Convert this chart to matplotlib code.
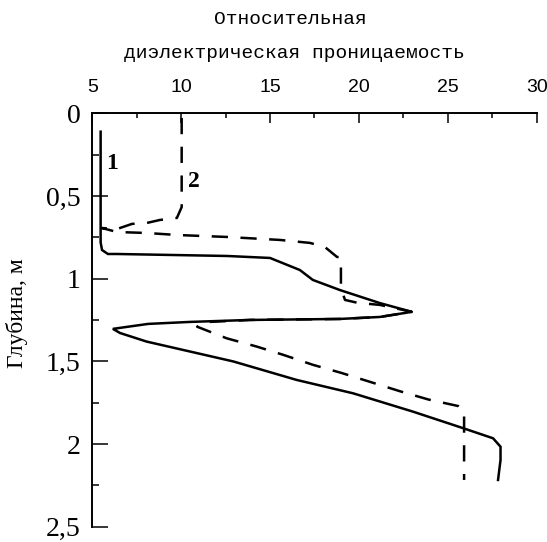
import matplotlib
matplotlib.use("Agg")
import matplotlib.pyplot as plt
from matplotlib.ticker import MultipleLocator

# ===== data =====
# curve 1 (solid)
solid_eps = [5.47, 5.47, 5.55, 5.88, 6.39, 12.58, 15.0, 16.68, 17.41, 18.93,
             21.18, 22.98, 21.18, 18.93, 13.87, 10.49, 8.14, 6.16, 6.56, 8.06,
             12.93, 16.5, 19.68, 23.05, 25.87, 27.55, 27.97, 27.97, 27.83]
solid_depth = [0.11, 0.78, 0.826, 0.85, 0.85, 0.862, 0.874, 0.947, 1.007, 1.068,
               1.147, 1.20, 1.231, 1.243, 1.249, 1.261, 1.273, 1.303, 1.328, 1.38,
               1.50, 1.612, 1.693, 1.804, 1.904, 1.965, 2.016, 2.096, 2.217]

# curve 2 (dashed)
dashed_eps = [10.03, 10.03, 9.76, 8.81, 8.08, 7.23, 6.39, 5.55, 6.39, 8.08,
              9.76, 12.58, 15.56, 17.25, 18.09, 18.77, 18.99, 18.99, 19.22, 19.95,
              21.18, 22.98, 21.18, 18.93, 13.87, 11.4, 10.9, 12.56, 14.25, 15.74,
              17.4, 19.03, 20.52, 22.3, 23.9, 25.59, 25.92, 25.92]
dashed_depth = [0.027, 0.566, 0.632, 0.644, 0.662, 0.668, 0.699, 0.693, 0.717, 0.723,
                0.735, 0.747, 0.765, 0.783, 0.808, 0.868, 0.87, 1.056, 1.128, 1.146,
                1.158, 1.20, 1.231, 1.243, 1.249, 1.262, 1.29, 1.36, 1.41, 1.46,
                1.52, 1.57, 1.62, 1.68, 1.73, 1.77, 1.80, 2.217]

x_ticks = [5, 10, 15, 20, 25, 30]
y_ticks = [0, 0.5, 1, 1.5, 2, 2.5]
y_ticklabels = ["0", "0,5", "1", "1,5", "2", "2,5"]

# ===== figure =====
fig = plt.figure(figsize=(5.47, 5.42), dpi=100)
ax = fig.add_axes([0.1687, 0.0282, 0.8123, 0.7624])

ax.plot(solid_eps, solid_depth, color="black", linewidth=1.8, solid_joinstyle="miter")
ax.plot(dashed_eps, dashed_depth, color="black", linewidth=1.8,
        linestyle=(0, (6.5, 5)), dash_capstyle="butt")

ax.text(6.14, 0.30, "1", fontsize=17, fontweight="bold", family="Liberation Serif",
        ha="center", va="center")
ax.text(10.72, 0.41, "2", fontsize=17, fontweight="bold", family="Liberation Serif",
        ha="center", va="center")

ax.set_xlim(5, 30)
ax.set_ylim(2.5, 0)

# ===== axes look =====
for side in ["right", "bottom"]:
    ax.spines[side].set_visible(False)
for side in ["left", "top"]:
    ax.spines[side].set_linewidth(1.4)

ax.xaxis.tick_top()
ax.set_xticks(x_ticks)
ax.xaxis.set_minor_locator(MultipleLocator(2.5))
ax.set_yticks(y_ticks)
ax.set_yticklabels(y_ticklabels)
ax.yaxis.set_minor_locator(MultipleLocator(0.25))

ax.tick_params(axis="x", which="major", direction="in", length=7.2, width=1.1, pad=12.5,
               labelsize=14)
ax.tick_params(axis="x", which="minor", direction="in", length=3.6, width=1.1)
ax.tick_params(axis="y", which="major", direction="in", length=11.5, width=1.1, pad=8.5,
               labelsize=20)
ax.tick_params(axis="y", which="minor", direction="in", length=5, width=1.1)

for lab in ax.get_xticklabels():
    lab.set_family("Liberation Sans")
for lab in ax.get_yticklabels():
    lab.set_family("Liberation Serif")

# ===== labels =====
fig.text(290 / 547, 1 - 19 / 542, "Относительная", family="Liberation Mono",
         fontsize=14, ha="center", va="center")
fig.text(294 / 547, 1 - 53 / 542, "диэлектрическая проницаемость", family="Liberation Mono",
         fontsize=14, ha="center", va="center")
fig.text(17.5 / 547, 1 - 313.5 / 542, "Глубина, м", family="Liberation Serif",
         fontsize=17, rotation=90, ha="center", va="center")

fig.savefig("out.png", dpi=100)
